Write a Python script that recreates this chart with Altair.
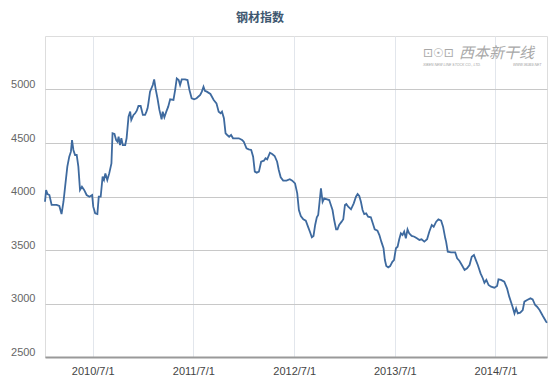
import altair as alt
import pandas as pd

dates = [
    "2010-01-09", "2010-01-13", "2010-01-18", "2010-01-25", "2010-02-02", "2010-02-20", "2010-03-02",
    "2010-03-10", "2010-03-17", "2010-03-23", "2010-03-31", "2010-04-07", "2010-04-13", "2010-04-17",
    "2010-04-22", "2010-04-28", "2010-05-04", "2010-05-10", "2010-05-16", "2010-05-23", "2010-05-31",
    "2010-06-09", "2010-06-19", "2010-06-29", "2010-07-03", "2010-07-10", "2010-07-18", "2010-07-23",
    "2010-07-30", "2010-08-06", "2010-08-11", "2010-08-16", "2010-08-23", "2010-08-30", "2010-09-07",
    "2010-09-11", "2010-09-18", "2010-09-24", "2010-09-29", "2010-10-03", "2010-10-08", "2010-10-13",
    "2010-10-18", "2010-10-27", "2010-11-01", "2010-11-08", "2010-11-14", "2010-11-18", "2010-11-26",
    "2010-12-02", "2010-12-08", "2010-12-14", "2010-12-22", "2010-12-30", "2011-01-07", "2011-01-12",
    "2011-01-16", "2011-01-19", "2011-01-25", "2011-02-04", "2011-02-09", "2011-02-14", "2011-02-21",
    "2011-02-28", "2011-03-08", "2011-03-12", "2011-03-18", "2011-03-25", "2011-04-01", "2011-04-08",
    "2011-04-20", "2011-04-26", "2011-05-02", "2011-05-09", "2011-05-14", "2011-05-20", "2011-06-01",
    "2011-06-10", "2011-06-17", "2011-06-25", "2011-07-04", "2011-07-13", "2011-07-26", "2011-08-01",
    "2011-08-07", "2011-08-12", "2011-08-19", "2011-09-01", "2011-09-13", "2011-09-23", "2011-10-01",
    "2011-10-08", "2011-10-13", "2011-10-20", "2011-10-26", "2011-11-01", "2011-11-08", "2011-11-15",
    "2011-11-22", "2011-12-01", "2011-12-13", "2011-12-25", "2011-12-31", "2012-01-10", "2012-01-18",
    "2012-01-27", "2012-02-03", "2012-02-09", "2012-02-16", "2012-02-24", "2012-03-03", "2012-03-13",
    "2012-03-19", "2012-03-25", "2012-04-04", "2012-04-12", "2012-04-21", "2012-04-30", "2012-05-06",
    "2012-05-13", "2012-05-22", "2012-06-03", "2012-06-15", "2012-06-24", "2012-07-04", "2012-07-12",
    "2012-07-18", "2012-07-25", "2012-08-03", "2012-08-12", "2012-08-20", "2012-08-27", "2012-09-03",
    "2012-09-09", "2012-09-15", "2012-09-21", "2012-09-26", "2012-10-01", "2012-10-06", "2012-10-12",
    "2012-10-18", "2012-10-28", "2012-11-05", "2012-11-11", "2012-11-17", "2012-11-23", "2012-11-30",
    "2012-12-05", "2012-12-11", "2012-12-20", "2012-12-26", "2013-01-01", "2013-01-06", "2013-01-13",
    "2013-01-23", "2013-02-02", "2013-02-10", "2013-02-16", "2013-02-22", "2013-02-28", "2013-03-06",
    "2013-03-12", "2013-03-19", "2013-03-26", "2013-04-05", "2013-04-12", "2013-04-19", "2013-04-29",
    "2013-05-06", "2013-05-13", "2013-05-21", "2013-05-26", "2013-05-31", "2013-06-07", "2013-06-14",
    "2013-06-22", "2013-06-28", "2013-07-05", "2013-07-11", "2013-07-17", "2013-07-23", "2013-07-29",
    "2013-08-04", "2013-08-10", "2013-08-16", "2013-08-22", "2013-08-31", "2013-09-10", "2013-09-19",
    "2013-09-28", "2013-10-06", "2013-10-16", "2013-10-26", "2013-11-03", "2013-11-12", "2013-11-19",
    "2013-11-28", "2013-12-06", "2013-12-16", "2013-12-23", "2013-12-31", "2014-01-03", "2014-01-09",
    "2014-01-21", "2014-02-05", "2014-02-12", "2014-02-20", "2014-03-01", "2014-03-11", "2014-03-20",
    "2014-03-29", "2014-04-06", "2014-04-14", "2014-04-21", "2014-04-28", "2014-05-08", "2014-05-16",
    "2014-05-22", "2014-05-29", "2014-06-06", "2014-06-15", "2014-06-27", "2014-07-07", "2014-07-12",
    "2014-07-21", "2014-08-02", "2014-08-12", "2014-08-20", "2014-09-01", "2014-09-08", "2014-09-14",
    "2014-09-20", "2014-09-29", "2014-10-08", "2014-10-14", "2014-10-24", "2014-11-05", "2014-11-13",
    "2014-11-22", "2014-11-29", "2014-12-08", "2014-12-20", "2015-01-01", "2015-01-04",
]

values = [
    3951, 4061, 4023, 4014, 3921, 3921, 3911,
    3836, 3951, 4092, 4279, 4372, 4419, 4528,
    4435, 4388, 4388, 4279, 4061, 4092, 4061,
    4014, 3998, 4014, 3905, 3843, 3836, 3998,
    3998, 4185, 4154, 4216, 4154, 4216, 4310,
    4591, 4584, 4528, 4512, 4559, 4481, 4544,
    4481, 4481, 4544, 4746, 4793, 4715, 4762,
    4778, 4802, 4846, 4846, 4762, 4762, 4793,
    4824, 4871, 4980, 5042, 5094, 5011, 4918,
    4809, 4721, 4793, 4740, 4793, 4840, 4908,
    4902, 4995, 5103, 5088, 5042, 5094, 5094,
    5088, 4995, 4918, 4908, 4918, 4949, 4980,
    5026, 4988, 4980, 4958, 4902, 4871, 4793,
    4778, 4793, 4731, 4591, 4575, 4559, 4575,
    4544, 4544, 4544, 4528, 4512, 4450, 4441,
    4435, 4372, 4232, 4223, 4232, 4325, 4335,
    4357, 4347, 4409, 4397, 4379, 4325, 4248,
    4179, 4148, 4148, 4161, 4148, 4123, 4030,
    3874, 3818, 3787, 3774, 3718, 3671, 3619,
    3631, 3734, 3806, 3827, 3951, 4077, 3951,
    3983, 3974, 3967, 3921, 3874, 3780, 3693,
    3693, 3734, 3765, 3787, 3921, 3930, 3905,
    3880, 3936, 3998, 4023, 4005, 3951, 3874,
    3836, 3843, 3811, 3806, 3750, 3693, 3680,
    3640, 3578, 3516, 3406, 3350, 3338, 3350,
    3390, 3406, 3516, 3531, 3600, 3656, 3640,
    3671, 3609, 3693, 3656, 3631, 3624, 3609,
    3594, 3600, 3578, 3600, 3671, 3734, 3718,
    3765, 3787, 3774, 3718, 3609, 3578, 3484,
    3478, 3478, 3422, 3400, 3360, 3313, 3329,
    3360, 3437, 3453, 3406, 3360, 3282, 3236,
    3194, 3220, 3173, 3157, 3148, 3164, 3226,
    3220, 3204, 3142, 3064, 2970, 2908, 2955,
    2908, 2914, 2939, 3017, 3033, 3048, 3039,
    2986, 2970, 2939, 2883, 2830, 2820,
]

y_ticks = [2500, 3000, 3500, 4000, 4500, 5000]
x_tick_years = [2010, 2011, 2012, 2013, 2014]
title_text = "钢材指数"
logo_cn = "西本新干线"
logo_en = "XIBEN NEW LINE STOCK CO., LTD."
logo_url = "WWW.96369.NET"

df = pd.DataFrame({"date": dates, "value": values})

x_enc = alt.X(
    "date:T",
    scale=alt.Scale(type="utc", nice=False),
    axis=alt.Axis(
        title=None,
        values=[alt.DateTime(year=yr, month=7, date=1, utc=True) for yr in x_tick_years],
        labelExpr="utcFormat(datum.value, '%Y/%-m/%-d')",
        grid=True,
        gridColor="#E2E6EC",
        gridWidth=1,
        ticks=False,
        domainColor="#999999",
        domainWidth=2,
        labelColor="#444444",
        labelFont="Liberation Sans",
        labelFontSize=11,
        labelPadding=8,
    ),
)

y_enc = alt.Y(
    "value:Q",
    scale=alt.Scale(domain=[2500, 5500], nice=False, zero=False),
    axis=alt.Axis(
        title=None,
        values=y_ticks,
        format="d",
        grid=True,
        gridColor="#C8C8C8",
        gridWidth=1,
        ticks=False,
        domain=False,
        labelColor="#666666",
        labelFont="Liberation Sans",
        labelFontSize=11,
        labelPadding=10,
        labelOffset=-5,
    ),
)

line = alt.Chart(df).mark_line(color="#3E6A9F", strokeWidth=1.8).encode(x=x_enc, y=y_enc)


def logo_text(txt, x, y, size, font, color, style="normal"):
    return alt.Chart(pd.DataFrame({"t": [txt]})).mark_text(
        font=font, fontSize=size, fontStyle=style,
        color=color, align="left", baseline="middle",
    ).encode(text="t:N", x=alt.value(x), y=alt.value(y))


logo1 = logo_text(logo_cn, 414, 17, 15, "Noto Sans CJK SC", "#A8A8A8", "italic")
logo2 = logo_text("⊡☉⊡", 378, 17, 12, "DejaVu Sans", "#A8A8A8")
logo3 = logo_text(logo_en, 378, 29, 3.5, "Liberation Sans", "#A0A0A0", "italic")
logo4 = logo_text(logo_url, 468, 29, 3.5, "Liberation Sans", "#A0A0A0", "italic")

chart = alt.layer(line, logo1, logo2, logo3, logo4).properties(
    width=502,
    height=321,
    autosize=alt.AutoSizeParams(type="none"),
    padding={"left": 37, "top": 28, "right": 5, "bottom": 21},
    title=alt.TitleParams(
        title_text, fontSize=12, fontWeight="bold", color="#3E576F",
        font="Noto Sans CJK SC", anchor="middle", dx=-36, offset=11,
    ),
).configure_view(
    stroke="#C0C0C0", strokeWidth=1
).configure(background="white")

chart.save("out.html", embed_options={"renderer": "svg", "actions": False})
